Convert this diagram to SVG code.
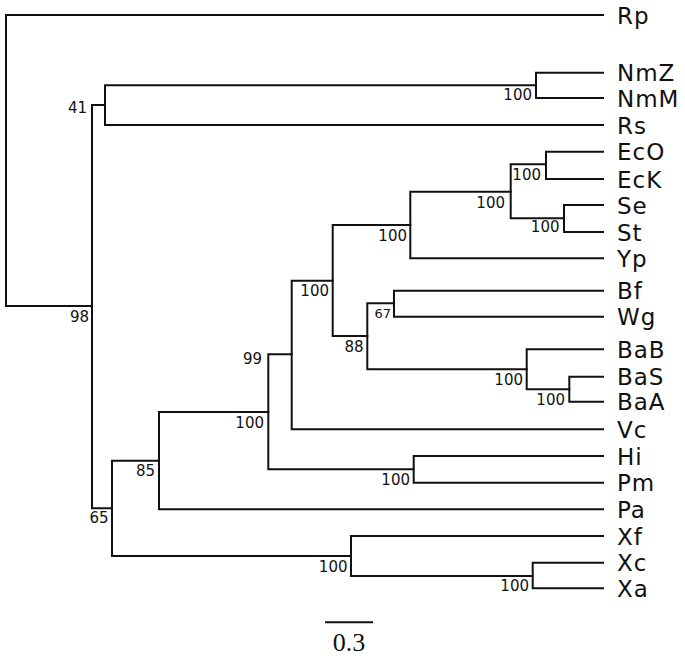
<svg xmlns="http://www.w3.org/2000/svg" width="685" height="658" viewBox="0 0 685 658">
<style>
.e{fill:none;stroke:#111;stroke-width:2;stroke-linecap:square}
.leaf{font-family:"DejaVu Sans",sans-serif;font-size:23px;letter-spacing:1px;fill:#111}
.bs{font-family:"DejaVu Sans",sans-serif;font-size:15px;fill:#111;text-anchor:end}
.bss{font-family:"DejaVu Sans",sans-serif;font-size:13px;fill:#111;text-anchor:end}
.sc{font-family:"Liberation Serif","DejaVu Serif",serif;font-size:26px;fill:#111;text-anchor:middle}
</style>
<rect width="685" height="658" fill="#fff"/>
<g id="connectors">
<path class="e" d="M6,15V306M6,15H603M6,306H92"/>
<path class="e" d="M92,105V508.3M92,105H105M92,508.3H112"/>
<path class="e" d="M105,85.3V125M105,85.3H536M105,125H603"/>
<path class="e" d="M536,72.7V98M536,72.7H603M536,98H603"/>
<path class="e" d="M112,460.7V556M112,460.7H159M112,556H351"/>
<path class="e" d="M159,412V509.3M159,412H268.3M159,509.3H603"/>
<path class="e" d="M268.3,354.3V469.3M268.3,354.3H291.7M268.3,469.3H413.7"/>
<path class="e" d="M413.7,456V482.7M413.7,456H603M413.7,482.7H603"/>
<path class="e" d="M291.7,280.7V429.3M291.7,280.7H332.7M291.7,429.3H603"/>
<path class="e" d="M332.7,225V336M332.7,225H410.3M332.7,336H367.3"/>
<path class="e" d="M410.3,191.7V258.3M410.3,191.7H510.7M410.3,258.3H603"/>
<path class="e" d="M510.7,164.3V218.3M510.7,164.3H546M510.7,218.3H564"/>
<path class="e" d="M546,151.7V179M546,151.7H603M546,179H603"/>
<path class="e" d="M564,205V232M564,205H603M564,232H603"/>
<path class="e" d="M367.3,303.3V369.3M367.3,303.3H394M367.3,369.3H526.7"/>
<path class="e" d="M394,290.7V316.7M394,290.7H603M394,316.7H603"/>
<path class="e" d="M526.7,349.3V389.3M526.7,349.3H603M526.7,389.3H569.3"/>
<path class="e" d="M569.3,376.7V401.7M569.3,376.7H603M569.3,401.7H603"/>
<path class="e" d="M351,536V576M351,536H603M351,576H532.7"/>
<path class="e" d="M532.7,562.7V588.3M532.7,562.7H603M532.7,588.3H603"/>
</g>
<g id="leaf-Rp"><text class="leaf" x="617" y="23.5">Rp</text></g>
<g id="leaf-NmZ"><text class="leaf" x="617" y="81">NmZ</text></g>
<g id="leaf-NmM"><text class="leaf" x="617" y="106.5">NmM</text></g>
<g id="leaf-Rs"><text class="leaf" x="617" y="133.5">Rs</text></g>
<g id="leaf-EcO"><text class="leaf" x="617" y="160">EcO</text></g>
<g id="leaf-EcK"><text class="leaf" x="617" y="187.5">EcK</text></g>
<g id="leaf-Se"><text class="leaf" x="617" y="213.5">Se</text></g>
<g id="leaf-St"><text class="leaf" x="617" y="240.5">St</text></g>
<g id="leaf-Yp"><text class="leaf" x="617" y="266.8">Yp</text></g>
<g id="leaf-Bf"><text class="leaf" x="617" y="299.2">Bf</text></g>
<g id="leaf-Wg"><text class="leaf" x="617" y="325.2">Wg</text></g>
<g id="leaf-BaB"><text class="leaf" x="617" y="357.8">BaB</text></g>
<g id="leaf-BaS"><text class="leaf" x="617" y="385.2">BaS</text></g>
<g id="leaf-BaA"><text class="leaf" x="617" y="410.2">BaA</text></g>
<g id="leaf-Vc"><text class="leaf" x="617" y="437.8">Vc</text></g>
<g id="leaf-Hi"><text class="leaf" x="617" y="464.5">Hi</text></g>
<g id="leaf-Pm"><text class="leaf" x="617" y="491.2">Pm</text></g>
<g id="leaf-Pa"><text class="leaf" x="617" y="517.8">Pa</text></g>
<g id="leaf-Xf"><text class="leaf" x="617" y="544.5">Xf</text></g>
<g id="leaf-Xc"><text class="leaf" x="617" y="571.2">Xc</text></g>
<g id="leaf-Xa"><text class="leaf" x="617" y="596.8">Xa</text></g>
<g id="node-root"/>
<g id="node-98"><text class="bs" x="89" y="322">98</text></g>
<g id="node-41"><text class="bs" x="87" y="113">41</text></g>
<g id="node-Nm"><text class="bs" x="532" y="99.5">100</text></g>
<g id="node-65"><text class="bs" x="108.5" y="523.3">65</text></g>
<g id="node-85"><text class="bs" x="155" y="476">85</text></g>
<g id="node-268"><text class="bs" x="264" y="428.3">100</text></g>
<g id="node-HiPm"><text class="bs" x="410" y="485">100</text></g>
<g id="node-99"><text class="bs" x="262" y="364.3">99</text></g>
<g id="node-332"><text class="bs" x="329" y="296">100</text></g>
<g id="node-410"><text class="bs" x="407" y="240.7">100</text></g>
<g id="node-510"><text class="bs" x="505" y="208.3">100</text></g>
<g id="node-Ec"><text class="bs" x="541" y="180">100</text></g>
<g id="node-S"><text class="bs" x="559.5" y="231.7">100</text></g>
<g id="node-88"><text class="bs" x="363.5" y="351.7">88</text></g>
<g id="node-67"><text class="bss" x="391" y="318">67</text></g>
<g id="node-Ba"><text class="bs" x="523" y="385">100</text></g>
<g id="node-BaSA"><text class="bs" x="565" y="405">100</text></g>
<g id="node-X"><text class="bs" x="347.5" y="571.7">100</text></g>
<g id="node-Xca"><text class="bs" x="529" y="590.7">100</text></g>
<g id="scalebar">
<line class="e" x1="326" y1="622.3" x2="372" y2="622.3" stroke-linecap="butt"/>
<text class="sc" x="349" y="651">0.3</text>
</g>
</svg>
